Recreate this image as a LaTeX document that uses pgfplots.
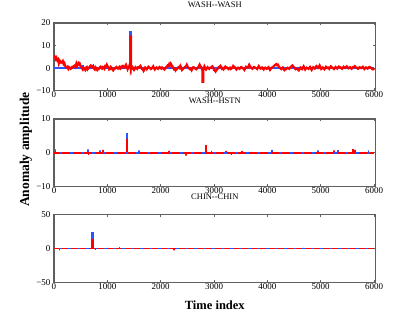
\documentclass[border=0pt]{standalone}
\usepackage{pgfplots}
\pgfplotsset{compat=1.18}
\usepackage{fontspec}
\setmainfont{Liberation Serif}
\definecolor{mblue}{RGB}{45,85,255}
\definecolor{mred}{RGB}{255,0,0}
\definecolor{mframe}{RGB}{95,95,95}
\pgfplotsset{
  panel/.style={
    width=321.6pt, height=67.7pt, scale only axis,
    xmin=0, xmax=6030,
    xtick={0,1000,2000,3000,4000,5000,6000},
    xticklabels={0,1000,2000,3000,4000,5000,6000},
    tick align=inside, major tick length=2.5pt,
    axis line style={draw=mframe, line width=1.15pt},
    every tick/.style={draw=mframe, line width=0.8pt},
    tick label style={font=\fontsize{9}{10}\selectfont},
    /pgf/number format/assume math mode=true,
    xticklabel style={yshift=2.5pt},
    title style={at={(axis description cs:0.5,1.175)}, anchor=center, font=\fontsize{8.5}{10}\selectfont},
    anchor=south west,
    clip=true,
  }
}
\begin{document}
\begin{tikzpicture}
\useasboundingbox (0,0) rectangle (415pt,319pt);
% ---------- Panel 1 ----------
\begin{axis}[panel, at={(54pt,228.3pt)}, ymin=-10, ymax=20,
  ytick={-10,0,10,20}, yticklabels={−10,0,10,20},
  title={WASH-{}-WASH}]
\addplot[mblue, line width=1.8pt] coordinates {
(0,0) (520,0) (520,1) (540,1) (540,0) (1432,0) (1432,16) (1444,16) (1444,0) (6000,0)};
\addplot[mred, line width=2.2pt] coordinates {
(0,4.5) (15,5.0) (30,4.0) (45,4.6) (60,3.5) (75,3.9) (90,2.2) (105,3.4) (120,3.0) (135,2.4) (150,2.5) (165,3.1) (180,1.8) (195,2.2) (210,1.0) (225,0.5) (240,0.2)
(255,0.6) (270,-0.3) (285,0.4) (300,0.2) (315,-0.3) (330,0.0) (345,0.6) (360,0.5) (375,1.0) (390,1.2) (405,0.6) (420,2.0) (435,1.0) (450,1.5) (465,2.4) (480,2.2) (495,1.0) (510,0.5) (525,0.0) (540,-0.6) (555,0.2) (570,-0.3) (585,-0.8) (600,0.2)
(615,0.5) (630,-0.5) (645,0.0) (660,0.3) (675,0.8) (690,1.2) (705,0.8) (720,0.4) (735,0.9) (750,-0.2) (765,-0.6) (780,0.3) (795,-0.2) (810,-0.8) (825,-0.2) (840,-0.4) (855,0.2) (870,0.6) (885,0.1) (900,-0.2) (915,0.5) (930,0.4) (945,-0.2) (960,0.9) (975,0.7) (990,1.5) (1005,0.8) (1020,0.3)
(1035,-0.6) (1050,-0.4) (1065,0.5) (1080,0.1) (1095,-0.6) (1110,-1.0) (1125,-0.4) (1140,-0.3) (1155,0.2) (1170,0.5) (1185,0.0) (1200,-0.2) (1215,0.3) (1230,0.6) (1245,-0.2) (1260,0.2) (1275,0.8) (1290,1.0) (1305,0.2) (1320,0.3) (1335,0.9) (1350,1.5) (1365,0.6) (1380,-0.5) (1395,0.3) (1410,0.8)
(1425,2.0) (1435,1.0) (1435,14) (1445,14) (1445,-0.5) (1455,0.2) (1470,0.5) (1485,-0.2) (1500,-0.8) (1515,-0.3) (1530,0.4) (1545,0.1) (1560,-0.3) (1575,0.4) (1590,0.2) (1605,0.6) (1620,1.0) (1635,0.2) (1650,-0.4) (1665,-0.5) (1680,-1.2) (1695,-0.5) (1710,0.3)
(1725,0.0) (1740,-0.5) (1755,0.1) (1770,0.6) (1785,0.3) (1800,0.1) (1815,-0.4) (1830,-0.2) (1845,0.3) (1860,0.8) (1875,0.0) (1890,-0.6) (1905,-0.1) (1920,0.3) (1935,0.0) (1950,-0.3) (1965,0.2) (1980,0.5) (1995,0.1) (2010,-0.2) (2025,0.3) (2040,0.0) (2055,-0.3) (2070,-0.6) (2085,-0.1) (2100,0.4)
(2115,0.6) (2130,1.2) (2145,1.0) (2160,1.8) (2175,1.2) (2190,2.0) (2205,1.4) (2220,0.8) (2235,0.2) (2250,-0.5) (2265,-0.2) (2280,-1.0) (2295,-0.5) (2310,-0.3) (2325,0.2) (2340,0.5) (2355,0.1) (2370,1.0) (2385,0.3) (2400,-0.8) (2415,-0.4) (2430,-0.2) (2445,0.3) (2460,0.6) (2475,0.8) (2490,1.5)
(2505,0.7) (2520,0.2) (2535,-0.2) (2550,-0.5) (2565,-0.2) (2580,-0.9) (2595,-0.2) (2610,0.4) (2625,0.3) (2640,0.0) (2655,-0.4) (2670,-0.5) (2685,0.0) (2700,0.3) (2715,0.9) (2730,1.6) (2745,0.9) (2760,0.5) (2775,-0.5) (2785,-0.5) (2785,-6.0) (2800,-6.0) (2800,-1.0)
(2810,0.2) (2820,0.8) (2835,0.0) (2850,-0.6) (2865,-0.1) (2880,0.4) (2895,0.0) (2910,-0.3) (2925,0.2) (2940,0.2) (2955,0.5) (2970,0.8) (2985,0.2) (3000,-0.8) (3015,-1.0) (3030,-1.5) (3045,-0.9) (3060,-0.6) (3075,0.0) (3090,0.5) (3105,0.6) (3120,1.0) (3135,0.4) (3150,-0.3) (3165,0.0) (3180,-0.5)
(3195,0.1) (3210,0.6) (3225,0.1) (3240,0.3) (3255,0.0) (3270,-0.4) (3285,0.0) (3300,0.2) (3315,-0.4) (3330,-0.2) (3345,0.4) (3360,1.0) (3375,0.6) (3390,0.4) (3405,-0.1) (3420,-0.6) (3435,-0.2) (3450,0.2) (3465,0.0) (3480,-0.3) (3495,0.2) (3510,0.5) (3525,0.2) (3540,0.0) (3555,-0.3) (3570,-0.8)
(3585,-0.2) (3600,0.6) (3615,0.4) (3630,0.2) (3645,0.8) (3660,1.5) (3675,0.8) (3690,0.4) (3705,0.0) (3720,-0.3) (3735,0.2) (3750,0.5) (3765,0.3) (3780,0.1) (3795,-0.1) (3810,-0.4) (3825,0.3) (3840,0.9) (3855,0.3) (3870,-0.2) (3885,0.1) (3900,0.3) (3915,-0.2) (3930,-0.6) (3945,-0.1) (3960,0.2)
(3975,0.0) (3990,-0.3) (4005,0.1) (4020,0.4) (4035,-0.2) (4050,-0.8) (4065,-0.3) (4080,0.2) (4095,0.3) (4110,0.6) (4125,1.0) (4140,1.3) (4155,1.6) (4170,1.8) (4185,1.3) (4200,1.5) (4215,0.8) (4230,0.2) (4245,-0.1) (4260,-0.4) (4275,0.0) (4290,0.3) (4305,-0.3) (4320,-0.9) (4335,-0.6) (4350,-0.5)
(4365,-0.1) (4380,0.2) (4395,0.0) (4410,-0.3) (4425,0.2) (4440,0.6) (4455,0.9) (4470,1.2) (4485,0.8) (4500,0.4) (4515,0.0) (4530,-0.5) (4545,-0.3) (4560,-0.2) (4575,-0.6) (4590,-1.0) (4605,-0.4) (4620,0.3) (4635,0.0) (4650,-0.4) (4665,0.2) (4680,0.8) (4695,0.1) (4710,-0.6) (4725,-0.1) (4740,0.2)
(4755,0.0) (4770,-0.3) (4785,0.1) (4800,0.5) (4815,-0.2) (4830,-0.8) (4845,-0.1) (4860,0.4) (4875,0.1) (4890,-0.2) (4905,0.4) (4920,0.9) (4935,0.5) (4950,0.1) (4965,0.6) (4980,1.2) (4995,0.4) (5010,-0.4) (5025,-0.1) (5040,0.3) (5055,0.0) (5070,-0.5) (5085,0.0) (5100,0.6) (5115,0.3) (5130,0.0)
(5145,0.2) (5160,-0.3) (5175,0.3) (5190,0.8) (5205,0.5) (5220,0.2) (5235,-0.1) (5250,-0.4) (5265,0.1) (5280,0.5) (5295,0.2) (5310,-0.2) (5325,0.3) (5340,0.7) (5355,0.5) (5370,0.3) (5385,0.0) (5400,-0.3) (5415,0.2) (5430,0.6) (5445,0.3) (5460,0.1) (5475,0.5) (5490,0.8) (5505,0.3) (5520,-0.1)
(5535,0.1) (5550,0.4) (5565,0.0) (5580,-0.3) (5595,0.2) (5610,0.5) (5625,0.6) (5640,0.9) (5655,0.5) (5670,0.2) (5685,0.0) (5700,-0.3) (5715,0.1) (5730,0.4) (5745,0.2) (5760,0.0) (5775,0.3) (5790,0.6) (5805,0.1) (5820,-0.4) (5835,0.0) (5850,0.3) (5865,0.0) (5880,-0.2) (5895,0.2) (5910,0.5)
(5925,0.4) (5940,0.2) (5955,-0.1) (5970,-0.5) (5985,-0.3) (6000,-0.8)};
\end{axis}
% ---------- Panel 2 ----------
\begin{axis}[panel, at={(54pt,132.3pt)}, ymin=-10, ymax=10,
  ytick={-10,0,10}, yticklabels={−10,0,10},
  title={WASH-{}-HSTN},
  ylabel={Anomaly amplitude},
  ylabel style={at={(axis description cs:-0.087,0.547)}, anchor=center, font=\fontsize{13.5}{15}\selectfont\bfseries}]
\addplot[mblue, line width=1.6pt] coordinates {
(0,0) (30,0) (30,1) (30,0) (640,0) (640,1) (640,0) (860,0) (860,0.7) (860,0) (1368,0) (1368,5.5) (1376,5.5) (1376,0)
(1590,0) (1590,0.7) (1590,0) (4090,0) (4090,0.9) (4090,0) (4950,0) (4950,0.7) (4950,0) (5330,0) (5330,0.8) (5330,0)
(5900,0) (5900,0.7) (5900,0) (6000,0)};
\addplot[mred, line width=1.6pt] coordinates {
(0,0) (650,0) (650,-0.7) (650,0) (920,0) (920,0.9) (920,0) (1368,0) (1368,4) (1376,4) (1376,0) (2160,0) (2160,0.6) (2160,0)
(2470,0) (2470,-0.8) (2470,0) (2838,0) (2838,2.2) (2848,2.2) (2848,0) (2950,0) (2950,0.6) (2950,0) (3220,0) (3220,0.6) (3220,0)
(3330,0) (3330,-0.6) (3330,0) (3530,0) (3530,0.5) (3530,0) (5250,0) (5250,0.7) (5250,0) (5600,0) (5600,0.9) (5612,0.9) (5612,0)
(5640,0) (5640,0.9) (5640,0) (6000,0)};
\addplot[mblue, line width=1.6pt, dash pattern=on 3pt off 8pt, dash phase=6pt] coordinates {(0,0) (6000,0)};
\end{axis}
% ---------- Panel 3 ----------
\begin{axis}[panel, at={(54pt,36.7pt)}, ymin=-50, ymax=50,
  ytick={-50,0,50}, yticklabels={−50,0,50},
  title={CHIN-{}-CHIN},
  xlabel={Time index},
  xlabel style={at={(axis description cs:0.5,-0.335)}, anchor=center, font=\fontsize{12.5}{14}\selectfont\bfseries}]
\addplot[mblue, line width=1.6pt] coordinates {
(0,0) (718,0) (718,23) (726,23) (726,0) (1230,0) (1230,2) (1230,0) (6000,0)};
\addplot[mred, line width=1.6pt] coordinates {
(0,0) (100,0) (100,-3) (100,0) (718,0) (718,13) (726,13) (726,0) (780,0) (780,-2) (780,0) (1000,0) (1000,1) (1000,0)
(2250,0) (2250,-3) (2250,0) (4680,0) (4680,1) (4680,0) (6000,0)};
\addplot[mblue, line width=1.6pt, dash pattern=on 3pt off 6pt, dash phase=4pt] coordinates {(0,0) (6000,0)};
\end{axis}
\end{tikzpicture}
\end{document}
